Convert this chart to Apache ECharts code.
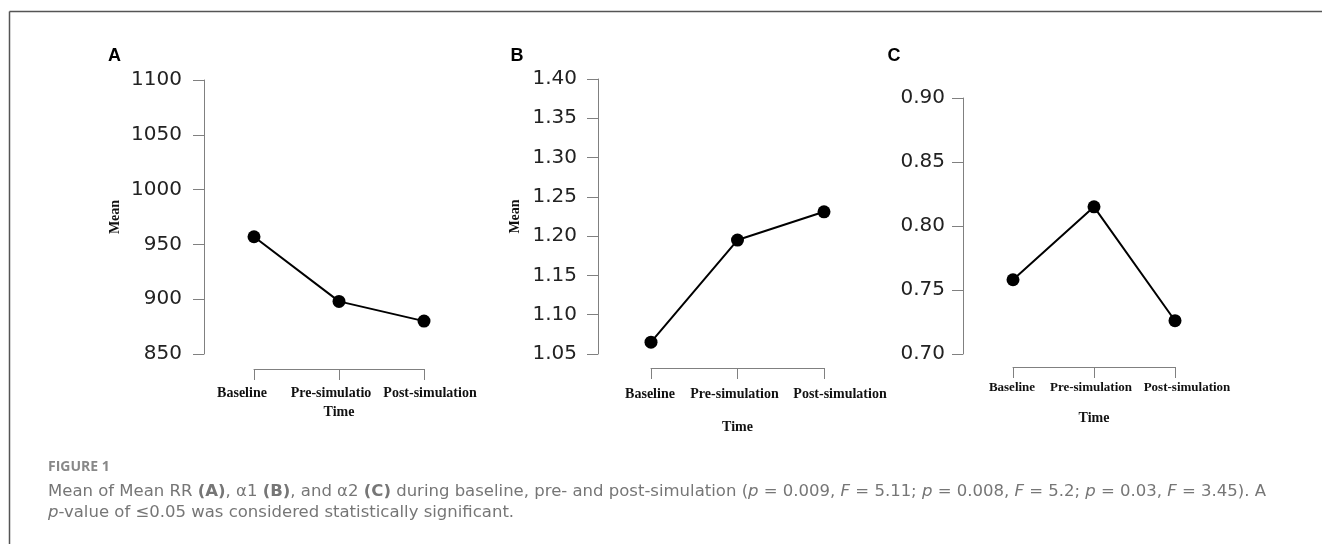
<!DOCTYPE html>
<html>
<head>
<meta charset="utf-8">
<script src="https://cdn.jsdelivr.net/npm/echarts@6/dist/echarts.min.js"></script>
<style>
  html, body { margin: 0; padding: 0; background: #fff; }
  #chart { width: 1322px; height: 544px; }
</style>
</head>
<body>
<div id="chart"></div>
<script>
// categories (panel A label is cut off in the original)
var catsA = ['Baseline', 'Pre-simulatio', 'Post-simulation'];
var cats = ['Baseline', 'Pre-simulation', 'Post-simulation'];

// means per time point
var meanRR = [957, 898, 880];
var alpha1 = [1.065, 1.195, 1.231];
var alpha2 = [0.758, 0.815, 0.726];

// y ranges: [min, max, interval]
var rangeA = [850, 1100, 50];
var rangeB = [1.05, 1.40, 0.05];
var rangeC = [0.70, 0.90, 0.05];

// the category labels in the figure are not centred on their ticks
var labelShiftA = [-12, -8, 6];
var labelShiftB = [-1, -3, 16];
var labelShiftC = [-1, -3, 12];

var axisGray = '#808080';
var serif = '"Liberation Serif", "Times New Roman", serif';

function yAxis(idx, r, offset, margin, name, nameGap, decimals) {
    return {
        type: 'value', gridIndex: idx,
        min: r[0], max: r[1], interval: r[2],
        offset: offset,
        name: name, nameLocation: 'middle', nameGap: nameGap,
        nameTextStyle: { fontFamily: serif, fontWeight: 'bold', fontSize: 14, color: '#111' },
        axisLine: { show: true, lineStyle: { color: axisGray, width: 1 } },
        axisTick: { show: true, length: 11, lineStyle: { color: axisGray, width: 1 } },
        splitLine: { show: false },
        axisLabel: {
            margin: margin, fontSize: 20, color: '#222',
            fontFamily: '"DejaVu Sans", sans-serif',
            formatter: function (v) { return v.toFixed(decimals); }
        }
    };
}

function xAxis(idx, data, shifts, offset, fontSize, labelMargin, nameGap) {
    var rich = {};
    shifts.forEach(function (s, i) {
        rich['s' + i] = {
            fontFamily: serif, fontWeight: 'bold', fontSize: fontSize, color: '#111',
            padding: s >= 0 ? [0, 0, 0, 2 * s] : [0, -2 * s, 0, 0]
        };
    });
    return {
        type: 'category', gridIndex: idx, data: data,
        boundaryGap: false, offset: offset,
        name: 'Time', nameLocation: 'middle', nameGap: nameGap,
        nameTextStyle: { fontFamily: serif, fontWeight: 'bold', fontSize: 14, color: '#111' },
        axisLine: { show: true, lineStyle: { color: axisGray, width: 1 } },
        axisTick: { show: true, interval: 0, length: 11, lineStyle: { color: axisGray, width: 1 } },
        splitLine: { show: false },
        axisLabel: {
            interval: 0, margin: labelMargin, fontSize: fontSize, color: '#111',
            fontFamily: serif, fontWeight: 'bold',
            formatter: function (v, i) { return '{s' + i + '|' + v + '}'; },
            rich: rich
        }
    };
}

function series(idx, data) {
    return {
        type: 'line', xAxisIndex: idx, yAxisIndex: idx, data: data,
        symbol: 'circle', symbolSize: 13,
        itemStyle: { color: '#000' },
        lineStyle: { color: '#000', width: 2 },
        animation: false
    };
}

function letter(txt, x, y) {
    return {
        type: 'text', x: x, y: y,
        style: {
            text: txt, fill: '#000', align: 'center', verticalAlign: 'middle',
            font: 'bold 18px "Liberation Sans", Arial, sans-serif'
        }
    };
}

var capFont = '"DejaVu Sans", sans-serif';
var capColor = '#767676';

var chart = echarts.init(document.getElementById('chart'));
chart.setOption({
    animation: false,
    grid: [
        { left: 254, top: 80, width: 170, height: 274, outerBoundsMode: 'none' },
        { left: 651, top: 79, width: 173, height: 275, outerBoundsMode: 'none' },
        { left: 1013, top: 98, width: 162, height: 256, outerBoundsMode: 'none' }
    ],
    xAxis: [
        xAxis(0, catsA, labelShiftA, 15, 14, 17, 36),
        xAxis(1, cats, labelShiftB, 14, 14, 19, 52),
        xAxis(2, cats, labelShiftC, 13, 13, 14, 44)
    ],
    yAxis: [
        yAxis(0, rangeA, 50, 22, 'Mean', 82, 0),
        yAxis(1, rangeB, 53, 21, 'Mean', 76, 2),
        yAxis(2, rangeC, 50, 18, '', 40, 2)
    ],
    series: [series(0, meanRR), series(1, alpha1), series(2, alpha2)],
    title: [
        {
            text: 'FIGURE 1', left: 43, top: 455,
            textStyle: { fontFamily: '"Open Sans", sans-serif', fontWeight: 'bold', fontSize: 14, color: '#888' }
        },
        {
            text: 'Mean of Mean RR {b|(A)}, \u03b11 {b|(B)}, and \u03b12 {b|(C)} during baseline, pre- and post-simulation ({i|p} = 0.009, {i|F} = 5.11; {i|p} = 0.008, {i|F} = 5.2; {i|p} = 0.03, {i|F} = 3.45). A\n' +
                  '{i|p}-value of \u22640.05 was considered statistically significant.',
            left: 43, top: 476,
            textStyle: {
                fontFamily: capFont, fontWeight: 'normal', fontSize: 16.5,
                color: capColor, lineHeight: 21,
                rich: {
                    b: { fontFamily: capFont, fontWeight: 'bold', fontSize: 16.5, color: capColor, lineHeight: 21 },
                    i: { fontFamily: capFont, fontStyle: 'italic', fontSize: 16.5, color: capColor, lineHeight: 21 }
                }
            }
        }
    ],
    graphic: [
        { type: 'line', shape: { x1: 9.5, y1: 11.5, x2: 1322, y2: 11.5 }, style: { stroke: '#555', lineWidth: 1.5 } },
        { type: 'line', shape: { x1: 9.5, y1: 11.5, x2: 9.5, y2: 544 }, style: { stroke: '#555', lineWidth: 1.5 } },
        letter('A', 114.5, 56.5),
        letter('B', 517, 56.5),
        letter('C', 894, 56.5)
    ]
});
</script>
</body>
</html>
